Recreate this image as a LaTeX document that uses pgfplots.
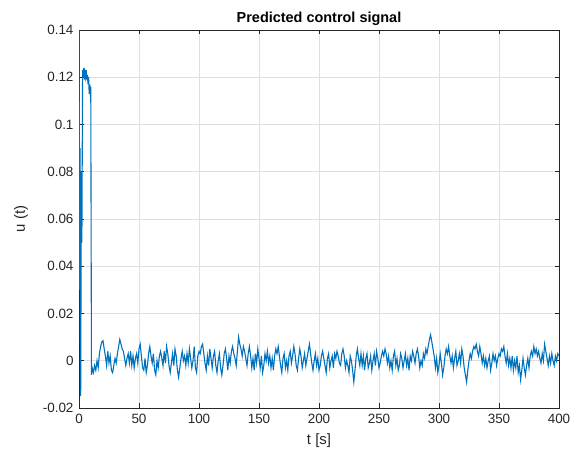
\documentclass[border=0pt]{standalone}
\usepackage{fontspec}
\setmainfont{Liberation Sans}
\usepackage{pgfplots}
\pgfplotsset{compat=1.18}
\usepackage{pgfplotstable}
\definecolor{mblue}{RGB}{0,114,189}
\definecolor{axgray}{RGB}{38,38,38}
\definecolor{gridgray}{RGB}{223,223,223}

\pgfplotstableread{
t u
0 0.14
0.6 0.03
0.9 0.09
1.4 -0.015
2 0.08
2.4 0.05
3 0.123
3.5 0.12
4 0.124
4.5 0.119
5 0.122
5.5 0.12
6 0.123
6.5 0.119
7 0.121
7.5 0.117
8 0.12
8.5 0.113
9 0.117
9.5 0.112
9.8 0.116
10.4 -0.006
11 -0.003
12 -0.005
13 -0.002
14 -0.004
15 0.000
16 -0.003
17 0.003
18 0.006
19 0.008
20 0.0085
21 0.005
22 0.002
23 -0.002
24 0.004
25 -0.001
26 0.002
27 -0.004
28 -0.005
29 -0.002
30 0.001
31 -0.001
32 0.003
33 0.006
34 0.009
35 0.007
36 0.005
37 0.004
38 0.001
39 -0.002
40 0.001
41 0.003
42 -0.001
43 0.004
44 -0.002
45 0.002
46 -0.003
47 0.001
48 0.003
49 -0.001
50 0.005
51 0.007
52 0.002
53 -0.003
54 -0.004
55 0.001
56 -0.005
57 -0.002
58 0.003
59 0.006
60 0.002
61 -0.001
62 0.003
63 -0.004
64 -0.006
65 0.000
66 -0.003
67 0.002
68 0.004
69 0.001
70 -0.002
71 0.004
72 -0.001
73 0.006
74 0.003
75 -0.002
76 -0.005
77 -0.001
78 0.003
79 -0.002
80 0.005
81 0.002
82 -0.004
83 -0.007
84 -0.003
85 0.001
86 0.004
87 0.000
88 0.002
89 -0.002
90 0.003
91 -0.001
92 0.005
93 0.001
94 -0.003
95 0.000
96 0.006
97 -0.003
98 -0.005
99 0.002
100 0.004
101 0.003
102 0.006
103 0.007
104 0.003
105 -0.001
106 -0.004
107 0.002
108 -0.002
109 0.005
110 0.001
111 -0.003
112 0.002
113 0.004
114 -0.002
115 -0.005
116 0.000
117 0.003
118 -0.003
119 -0.006
120 -0.002
121 0.003
122 0.005
123 0.001
124 -0.004
125 0.002
126 -0.001
127 0.004
128 0.006
129 0.003
130 0.001
131 -0.002
132 0.004
133 0.010
134 0.007
135 0.005
136 0.002
137 0.006
138 0.004
139 0.001
140 -0.002
141 0.003
142 0.006
143 0.002
144 -0.003
145 0.001
146 -0.004
147 0.003
148 -0.001
149 0.005
150 0.001
151 -0.003
152 0.002
153 -0.005
154 -0.002
155 0.003
156 0.000
157 0.004
158 -0.001
159 0.002
160 -0.003
161 0.001
162 -0.004
163 0.002
164 0.005
165 0.003
166 0.006
167 0.002
168 -0.002
169 -0.005
170 0.001
171 0.003
172 -0.003
173 0.000
174 -0.004
175 0.002
176 0.004
177 -0.001
178 0.002
179 0.006
180 0.003
181 -0.002
182 -0.004
183 0.001
184 0.005
185 0.002
186 -0.003
187 0.000
188 0.003
189 -0.002
190 0.001
191 0.004
192 0.007
193 0.003
194 -0.001
195 -0.004
196 0.000
197 0.003
198 -0.002
199 0.001
200 -0.004
201 -0.002
202 0.002
203 0.004
204 0.001
205 -0.002
206 -0.005
207 0.001
208 0.003
209 -0.003
210 0.000
211 0.002
212 -0.003
213 0.003
214 0.001
215 0.004
216 0.002
217 -0.001
218 -0.002
219 0.003
220 0.005
221 0.002
222 -0.003
223 0.000
224 -0.002
225 -0.005
226 0.002
227 0.000
228 -0.004
229 -0.009
230 -0.004
231 0.002
232 0.005
233 0.001
234 -0.002
235 0.003
236 -0.002
237 0.002
238 -0.004
239 0.001
240 0.003
241 -0.003
242 -0.001
243 0.002
244 -0.004
245 0.000
246 0.003
247 -0.002
248 0.004
249 0.001
250 -0.003
251 -0.001
252 0.002
253 0.004
254 0.002
255 0.005
256 0.003
257 -0.001
258 0.002
259 -0.003
260 0.000
261 -0.004
262 0.002
263 0.004
264 -0.002
265 0.001
266 -0.004
267 -0.002
268 0.003
269 0.001
270 -0.003
271 0.000
272 0.003
273 -0.002
274 0.001
275 -0.004
276 0.002
277 0.000
278 0.004
279 0.002
280 -0.001
281 0.003
282 0.005
283 0.002
284 -0.003
285 0.000
286 -0.002
287 0.003
288 0.001
289 0.005
290 0.003
291 0.006
292 0.009
293 0.011
294 0.008
295 0.005
296 0.002
297 -0.003
298 0.001
299 -0.005
300 -0.002
301 0.003
302 -0.001
303 -0.006
304 -0.003
305 0.002
306 0.005
307 0.003
308 0.006
309 0.002
310 -0.001
311 0.002
312 -0.003
313 0.001
314 0.004
315 -0.002
316 0.000
317 0.003
318 -0.001
319 0.005
320 0.002
321 -0.003
322 -0.006
323 -0.009
324 -0.004
325 0.000
326 0.003
327 0.001
328 0.004
329 0.006
330 0.005
331 0.007
332 0.004
333 0.002
334 0.006
335 0.003
336 -0.001
337 0.002
338 -0.002
339 0.001
340 -0.003
341 0.000
342 0.002
343 -0.004
344 -0.001
345 0.003
346 0.000
347 0.002
348 -0.002
349 0.001
350 0.003
351 0.002
352 0.005
353 0.004
354 0.006
355 0.002
356 -0.001
357 0.003
358 -0.002
359 0.001
360 -0.003
361 0.002
362 -0.004
363 0.000
364 -0.003
365 0.002
366 -0.005
367 -0.002
368 -0.008
369 -0.004
370 0.001
371 -0.003
372 -0.006
373 -0.002
374 0.001
375 -0.003
376 0.002
377 0.004
378 0.002
379 0.006
380 0.003
381 0.005
382 0.002
383 0.004
384 0.001
385 -0.001
386 0.003
387 0.000
388 0.007
389 0.004
390 0.001
391 -0.002
392 0.002
393 -0.001
394 0.003
395 0.000
396 -0.002
397 0.002
398 0.000
399 0.003
400 0.002
}\usignal

\begin{document}
\begin{tikzpicture}
\begin{axis}[
    scale only axis,
    width=480bp, height=378bp,
    xmin=0, xmax=400,
    ymin=-0.02, ymax=0.14,
    xtick={0,50,...,400},
    ytick={-0.02,0,0.02,0.04,0.06,0.08,0.1,0.12,0.14},
    yticklabels={-0.02,0,0.02,0.04,0.06,0.08,0.1,0.12,0.14},
    grid=major,
    major grid style={gridgray, line width=0.6bp},
    axis line style={axgray, line width=0.6bp},
    tick style={axgray, line width=0.6bp},
    tick align=inside,
    major tick length=4.5bp,
    ticklabel style={font=\fontsize{13.5}{16}\selectfont, text=axgray},
    xticklabel style={yshift=-3bp},
    yticklabel style={xshift=-2bp},
    /pgf/number format/assume math mode=true,
    xlabel={t [s]},
    ylabel={u (t)},
    label style={font=\fontsize{15}{18}\selectfont, text=axgray},
    xlabel style={yshift=-3bp},
    ylabel style={yshift=8bp},
    title={\textbf{Predicted control signal}},
    title style={font=\fontsize{14.5}{17}\selectfont, yshift=-5bp},
]
\addplot[mblue, line width=1.1bp] table[x=t, y=u] {\usignal};
\coordinate (ll) at (rel axis cs:0,0);
\coordinate (ur) at (rel axis cs:1,1);
\end{axis}
\path ([xshift=-79bp,yshift=-47bp]ll) rectangle ([xshift=23bp,yshift=30bp]ur);
\end{tikzpicture}
\end{document}
